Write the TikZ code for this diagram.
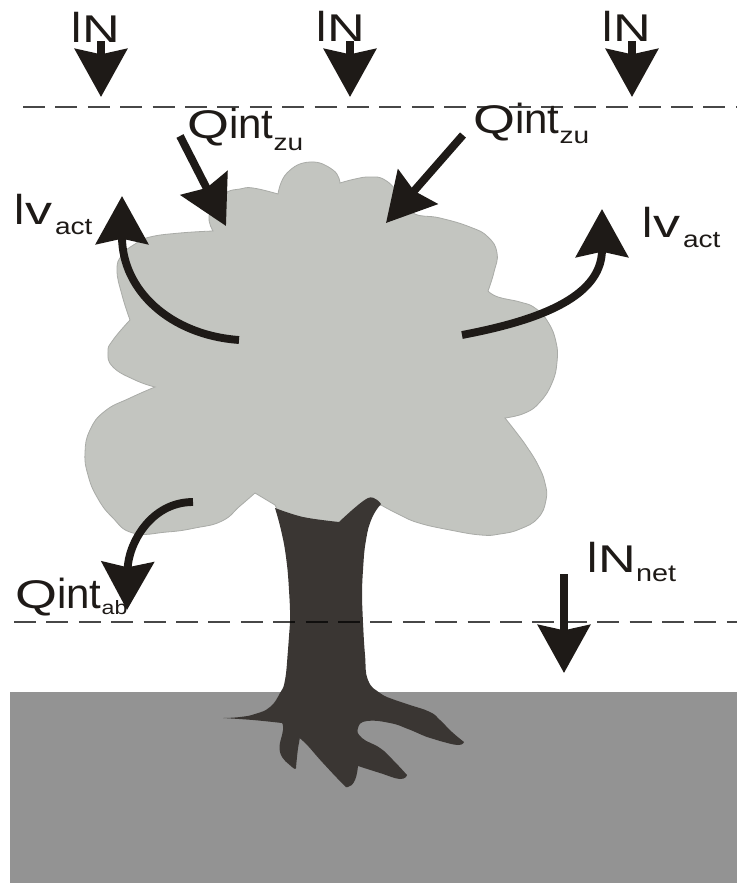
\documentclass[tikz,border=0pt]{standalone}
\usepackage{fontspec}
\usetikzlibrary{arrows.meta}
\setmainfont{Liberation Sans}
\newfontfamily\widefont[FakeStretch=1.2]{Liberation Sans}
\newfontfamily\broadfont[FakeStretch=1.35]{Liberation Sans}
\definecolor{soil}{HTML}{939393}
\definecolor{crownfill}{HTML}{C3C5C0}
\definecolor{crownedge}{HTML}{A9ABA7}
\definecolor{bark}{HTML}{3A3633}
\definecolor{ink}{HTML}{1E1A17}
% Label pieces: stretched capital, plain letters, stretched subscript
\newcommand{\capI}{{\fontsize{33}{33}\selectfont I}}
\newcommand{\capN}{{\fontsize{29}{30}\broadfont N}}
\newcommand{\capQ}{{\fontsize{30}{33}\broadfont Q}}
\newcommand{\lowint}{{\fontsize{31.5}{33}\selectfont int}}
\newcommand{\lowv}{{\fontsize{30}{33}\broadfont v}\hspace{2pt}}
\newcommand{\subtxt}[3]{\raisebox{#1}{\fontsize{#2}{#2}\widefont #3}}
\tikzset{
  flow/.style={draw=ink,line width=5.9pt,
    -{Stealth[length=36pt,width=39pt,inset=4pt,fill=ink]}},
  lbl/.style={anchor=base west,inner sep=0pt,text=ink},
  level/.style={draw=black,draw opacity=.72,line width=1.6pt,dash pattern=on 16.5pt off 7.8pt},
  crown/.style={fill=crownfill,draw=crownedge,line width=.6pt},
  trunk/.style={fill=bark},
  ground/.style={fill=soil},
  round curve/.style={smooth,tension=.8}
}
\begin{document}
\begin{tikzpicture}[x=.75pt,y=-.75pt]
\useasboundingbox (0,0) rectangle (737,883);
\fill[white] (0,0) rectangle (737,883);

% soil
\fill[ground] (10,692) rectangle (737,883);

% foliage
\path[crown]
  plot[round curve] coordinates {(213,231) (209,216) (218,200) (227,192) (240,189) (253,188) (278,194)}
  -- plot[round curve] coordinates {(278,194) (287,173) (310,162) (333,170) (340,183)}
  -- plot[round curve] coordinates {(340,183) (355,179) (370,177) (385,180) (400,195) (413,213) (440,218) (470,227) (488,237) (497,253) (494,272) (488,291)}
  -- plot[round curve] coordinates {(488,291) (498,297) (520,302) (535,308) (548,322) (556,342) (557,362) (552,383) (540,402) (525,413) (505,418)}
  -- plot[round curve] coordinates {(505,418) (516,432) (527,447) (538,465) (545,483) (546,500) (538,518) (520,529) (500,534) (481,535) (450,530) (419,523) (400,515) (381,505)}
  -- (368,510) -- (339,530) -- (285,525) -- (275,505)
  -- (255,493)
  -- plot[round curve] coordinates {(255,493) (240,506) (222,521) (195,528) (167,532) (133,533) (112,517) (97,497) (88,475) (85,453) (90,430) (105,411) (130,398) (155,387)}
  -- plot[round curve] coordinates {(155,387) (135,380) (113,367) (108,352) (113,340) (130,320)}
  -- plot[round curve] coordinates {(130,320) (122,295) (117,270) (122,255) (135,244) (150,237) (180,233) (213,231)}
  -- cycle;

% trunk and roots
\path[trunk]
  plot[smooth,tension=.6] coordinates {(275,508) (303,517) (339,522)}
  -- plot[smooth,tension=.6] coordinates {(339,522) (368,498) (381,504)}
  -- plot[round curve] coordinates {(381,504) (372,518) (366,540) (363,570) (362,600) (363,623) (365,655) (368,680) (380,693) (395,700) (410,705) (430,712) (440,720) (452,732) (464,742)}
  -- plot[round curve] coordinates {(464,742) (458,745) (440,741) (427,737) (408,729) (390,723) (367,721) (358,728) (362,738) (380,748) (393,760) (407,775)}
  -- plot[round curve] coordinates {(407,775) (400,779) (380,773) (358,766)}
  -- plot[round curve] coordinates {(358,766) (355,780) (348,787) (342,783) (323,763) (303,741) (299,743) (296,768)}
  -- plot[round curve] coordinates {(296,768) (292,767) (280,752) (283,730) (282,723)}
  -- plot[smooth,tension=.6] coordinates {(282,723) (253,720) (223,718)}
  -- plot[round curve] coordinates {(223,718) (240,717) (255,714) (270,707) (280,693) (285,680) (288,650) (290,623) (289,590) (286,557) (281,530) (275,508)}
  -- cycle;

% reference levels above and below the canopy
\coordinate (upperL) at (23,107);
\coordinate (upperR) at (737,107);
\coordinate (lowerL) at (14,622);
\coordinate (lowerR) at (737,622);
\draw[level] (upperL) -- (upperR);
\draw[level] (lowerL) -- (lowerR);

% incoming radiation
\coordinate (inA) at (101,41);  \coordinate (inAend) at (101,97);
\coordinate (inB) at (350,41);  \coordinate (inBend) at (350,97);
\coordinate (inC) at (632,41);  \coordinate (inCend) at (632,97);
\draw[flow] (inA) -- (inAend);
\draw[flow] (inB) -- (inBend);
\draw[flow] (inC) -- (inCend);

% interception inflow
\coordinate (zuA) at (180,136); \coordinate (zuAend) at (226,226);
\coordinate (zuB) at (463,135); \coordinate (zuBend) at (386,223);
\draw[flow] (zuA) -- (zuAend);
\draw[flow] (zuB) -- (zuBend);

% evaporation from the canopy
\coordinate (evL) at (239,340); \coordinate (evLend) at (122,196);
\coordinate (evR) at (462,335); \coordinate (evRend) at (602,209);
\draw[flow] (evL) .. controls (170,335) and (122,290) .. (evLend);
\draw[flow] (evR) .. controls (530,322) and (602,300) .. (evRend);

% interception outflow
\coordinate (abS) at (193,502); \coordinate (abEnd) at (127,610);
\draw[flow] (abS) .. controls (150,502) and (128,545) .. (abEnd);

% net radiation reaching the ground
\coordinate (netS) at (564,574); \coordinate (netEnd) at (564,673);
\draw[flow] (netS) -- (netEnd);

% labels
\node[lbl] (labelInA) at (70,42) {\capI\capN};
\node[lbl] (labelInB) at (315,41) {\capI\capN};
\node[lbl] (labelInC) at (601,41) {\capI\capN};
\node[lbl] (labelQzuA) at (187,138) {\capQ\lowint\subtxt{-9pt}{17.5}{zu}};
\node[lbl] (labelQzuB) at (473,133) {\capQ\lowint\subtxt{-8pt}{17.5}{zu}};
\node[lbl] (labelIvL) at (13,224) {\capI\lowv\subtxt{-8pt}{17.5}{act}};
\node[lbl] (labelIvR) at (641,237) {\capI\lowv\subtxt{-8pt}{17.5}{act}};
\node[lbl] (labelQab) at (15,608) {\capQ\lowint\subtxt{-5pt}{14.5}{ab}};
\node[lbl] (labelNet) at (586,572) {\capI\capN\subtxt{-7pt}{18}{net}};
\end{tikzpicture}
\end{document}
